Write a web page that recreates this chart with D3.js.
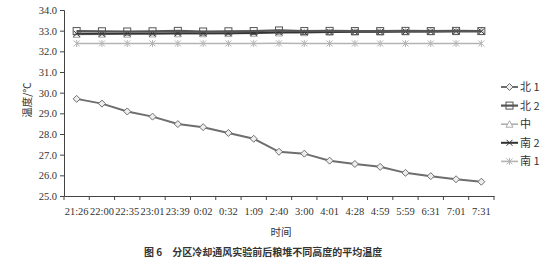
<!DOCTYPE html>
<meta charset="utf-8">
<style>
body {
  margin: 0;
  background: #fff;
}

#chart {
  width: 558px;
  height: 268px;
  display: block;
}

.cjk {
  font-family: "Noto Sans CJK SC", sans-serif;
  fill: #333;
}
</style>
<body>
  <svg id="chart"></svg>
</body>
<script src="https://d3js.org/d3.v7.min.js"></script>
<script>
// Data
var times = ["21:26", "22:00", "22:35", "23:01", "23:39", "0:02", "0:32", "1:09", "2:40",
  "3:00", "4:01", "4:28", "4:59", "5:59", "6:31", "7:01", "7:31"];
var yTicks = [25, 26, 27, 28, 29, 30, 31, 32, 33, 34];
var seriesNames = ["北 1", "北 2", "中", "南 2", "南 1"];
var bei1 = [29.70, 29.47, 29.09, 28.84, 28.48, 28.33, 28.05, 27.77, 27.14, 27.05, 26.71, 26.55, 26.41, 26.12, 25.96, 25.81, 25.69];
var bei2 = [32.98, 32.97, 32.96, 32.97, 32.99, 32.96, 32.97, 32.98, 33.01, 32.98, 32.99, 32.98, 32.98, 32.99, 32.98, 32.99, 32.98];
var zhong = [32.82, 32.83, 32.83, 32.84, 32.85, 32.85, 32.86, 32.87, 32.89, 32.90, 32.92, 32.93, 32.93, 32.94, 32.95, 32.95, 32.96];
var nan2 = [32.85, 32.85, 32.86, 32.86, 32.87, 32.87, 32.88, 32.89, 32.92, 32.92, 32.94, 32.95, 32.95, 32.96, 32.96, 32.97, 32.97];
var nan1 = [32.38, 32.38, 32.38, 32.38, 32.38, 32.38, 32.38, 32.38, 32.39, 32.38, 32.38, 32.38, 32.38, 32.38, 32.38, 32.38, 32.38];

var svg = d3.select("#chart");
var mLeft = 64, mRight = 494, mTop = 10, mBottom = 196;
var serif = "'Liberation Serif', 'DejaVu Serif', serif";

var x = d3.scaleBand().domain(times).range([mLeft, mRight]),
  y = d3.scaleLinear().domain([25, 34]).range([mBottom, mTop]);

// series styling: color, width, marker
var series = [
  { name: seriesNames[0], values: bei1, color: "#6e6e6e", width: 2, marker: "diamond" },
  { name: seriesNames[1], values: bei2, color: "#555", width: 2.2, marker: "square" },
  { name: seriesNames[2], values: zhong, color: "#aaa", width: 1.5, marker: "triangle" },
  { name: seriesNames[3], values: nan2, color: "#333", width: 2, marker: "cross" },
  { name: seriesNames[4], values: nan1, color: "#b4b4b4", width: 1.6, marker: "star" }
];

// Axes
var yAxis = d3.axisLeft(y).tickValues(yTicks).tickSize(4).tickPadding(3).tickFormat(d3.format(".1f"));
var gy = svg.append("g").attr("transform", "translate(" + mLeft + ",0)").call(yAxis)
  .attr("font-family", serif).attr("font-size", 10.5);
gy.select(".domain").attr("stroke", "#444");
gy.selectAll(".tick line").attr("stroke", "#444");
gy.selectAll(".tick text").attr("fill", "#333");

var xAxis = d3.axisBottom(x).tickSize(0).tickPadding(12);
var gx = svg.append("g").attr("transform", "translate(0," + mBottom + ")").call(xAxis)
  .attr("font-family", serif).attr("font-size", 10.5);
gx.select(".domain").attr("stroke", "#444");
gx.selectAll(".tick text").attr("fill", "#333");
// tick marks between categories, excel style
gx.selectAll(".sep").data(d3.range(times.length + 1)).enter().append("line")
  .attr("x1", function (i) { return mLeft + i * x.step(); })
  .attr("x2", function (i) { return mLeft + i * x.step(); })
  .attr("y1", 0).attr("y2", 4).attr("stroke", "#444");

// Lines
var line = d3.line()
  .x(function (d, i) { return x(times[i]) + x.bandwidth() / 2; })
  .y(function (d) { return y(d); });

function drawMarker(g, type, color) {
  if (type == "diamond") {
    g.append("path").attr("d", "M0,-3.5L3.5,0L0,3.5L-3.5,0Z").attr("fill", "#eee").attr("stroke", color).attr("stroke-width", 1);
  } else if (type == "square") {
    g.append("rect").attr("x", -3.5).attr("y", -3.5).attr("width", 7).attr("height", 7)
      .attr("fill", "none").attr("stroke", color).attr("stroke-width", 1);
  } else if (type == "triangle") {
    g.append("path").attr("d", "M0,-3.5L3.5,3L-3.5,3Z").attr("fill", "#fff").attr("stroke", color).attr("stroke-width", 1);
  } else if (type == "cross") {
    g.append("path").attr("d", "M-3,-3L3,3M-3,3L3,-3").attr("stroke", color).attr("stroke-width", 1);
  } else {
    g.append("path").attr("d", "M-3,-3L3,3M-3,3L3,-3M0,-3.5L0,3.5").attr("stroke", color).attr("stroke-width", 1);
  }
}

// draw back to front: 南1, 中, 南2, 北2, 北1
[4, 2, 3, 1, 0].forEach(function (k) {
  var s = series[k];
  svg.append("path").datum(s.values).attr("d", line)
    .attr("fill", "none").attr("stroke", s.color).attr("stroke-width", s.width);
  s.values.forEach(function (v, i) {
    var g = svg.append("g").attr("transform", "translate(" + (x(times[i]) + x.bandwidth() / 2) + "," + y(v) + ")");
    drawMarker(g, s.marker, s.color);
  });
});

// Legend
series.forEach(function (s, i) {
  var ly = 87 + i * 18.6;
  svg.append("line").attr("x1", 501).attr("x2", 518).attr("y1", ly).attr("y2", ly)
    .attr("stroke", s.color).attr("stroke-width", s.width);
  var g = svg.append("g").attr("transform", "translate(509.5," + ly + ")");
  drawMarker(g, s.marker, s.color);
  svg.append("text").attr("class", "cjk").attr("x", 520).attr("y", ly + 4)
    .attr("font-size", "11px").text(s.name);
});

// Titles
svg.append("text").attr("class", "cjk").attr("font-size", "10.5px")
  .attr("transform", "translate(31,100) rotate(-90)").attr("text-anchor", "middle").text("温度/℃");
svg.append("text").attr("class", "cjk").attr("font-size", "10.5px")
  .attr("x", 281).attr("y", 236).attr("text-anchor", "middle").text("时间");
svg.append("text").attr("class", "cjk").attr("font-size", "10px").attr("font-weight", "bold")
  .attr("x", 144).attr("y", 256).attr("fill", "#222").text("图 6　分区冷却通风实验前后粮堆不同高度的平均温度");
</script>
